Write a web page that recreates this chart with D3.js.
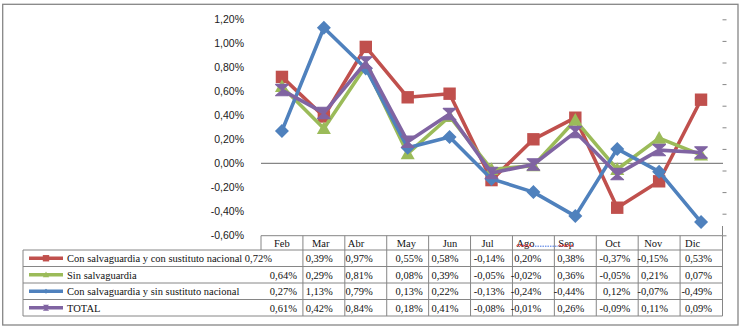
<!DOCTYPE html>
<html>
<head>
<meta charset="utf-8">
<script src="https://cdn.jsdelivr.net/npm/d3@7"></script>
<style>
  html, body { margin: 0; padding: 0; background: #fff; }
  svg { display: block; }
</style>
</head>
<body>
<div id="chart"></div>
<script>
// Monthly variation by group (percent)
const months = ["Feb", "Mar", "Abr", "May", "Jun", "Jul", "Ago", "Sep", "Oct", "Nov", "Dic"];
const seriesNames = [
  "Con salvaguardia y con sustituto nacional",
  "Sin salvaguardia",
  "Con salvaguardia y sin sustituto nacional",
  "TOTAL"
];
const conSustituto    = [0.72, 0.39, 0.97, 0.55, 0.58, -0.14, 0.20, 0.38, -0.37, -0.15, 0.53];
const sinSalvaguardia = [0.64, 0.29, 0.81, 0.08, 0.39, -0.05, -0.02, 0.36, -0.05, 0.21, 0.07];
const sinSustituto    = [0.27, 1.13, 0.79, 0.13, 0.22, -0.13, -0.24, -0.44, 0.12, -0.07, -0.49];
const total           = [0.61, 0.42, 0.84, 0.18, 0.41, -0.08, -0.01, 0.26, -0.09, 0.11, 0.09];
const yTicks = [-0.6, -0.4, -0.2, 0, 0.2, 0.4, 0.6, 0.8, 1.0, 1.2];

const seriesValues = [conSustituto, sinSalvaguardia, sinSustituto, total];
const colors  = ["#C0504D", "#9BBB59", "#4F81BD", "#8064A2"];
const markers = ["square", "triangle", "diamond", "hourglass"];

// Layout
const W = 744, H = 329;
const plotLeft = 261, plotRight = 722;
const plotTop = 19.3, plotBottom = 235.3;
const tableTop = 235.7, headerBottom = 250, rowH = 16.5;
const tableLeft = 23;
const gridColor = "#868686";
// per-column text placement inside the data table
const headerOffset = [13, 9, 3, 10, 14, 11, 4, 4, 9, 6, 5];
const cellPadRight = [6, 12, 14, 6, 12, 8, 13, 12, 8, 12, 10];

const locale = d3.formatLocale({decimal: ",", thousands: ".", grouping: [3], currency: ["", "€"], minus: "-"});
const f2 = locale.format(".2f");
const pct = v => f2(v) + "%";

const svg = d3.select("#chart").append("svg")
  .attr("width", W).attr("height", H);

// chart frame
svg.append("rect")
  .attr("x", 2.7).attr("y", 4.3).attr("width", 735.3).attr("height", 320.7)
  .attr("fill", "#fff").attr("stroke", gridColor).attr("stroke-width", 1.3);

const x = d3.scaleBand().domain(months).range([plotLeft, plotRight]).padding(0);
const y = d3.scaleLinear().domain([-0.6, 1.2]).range([plotBottom, plotTop]);

// left value axis (labels only)
const yAxis = svg.append("g")
  .attr("transform", `translate(${plotLeft - 13},0)`)
  .call(d3.axisLeft(y).tickValues(yTicks).tickSize(0).tickPadding(4).tickFormat(pct));
yAxis.select(".domain").remove();
yAxis.selectAll("text")
  .attr("font-family", "Liberation Sans, Arial, sans-serif")
  .attr("font-size", "10.5px")
  .attr("fill", "#1a1a1a");

// secondary axis tick marks on the right
const y2 = d3.scaleLinear().domain([0, 10]).range([plotTop, plotBottom]);
const y2Axis = svg.append("g")
  .attr("transform", `translate(${plotRight + 0.5},0)`)
  .call(d3.axisRight(y2).tickValues(d3.range(0, 11)).tickSize(4).tickFormat(""));
y2Axis.select(".domain").remove();
y2Axis.selectAll("line").attr("stroke", gridColor);

// zero line
svg.append("line")
  .attr("x1", plotLeft).attr("x2", plotRight + 1)
  .attr("y1", y(0)).attr("y2", y(0))
  .attr("stroke", gridColor).attr("stroke-width", 1.2);

// marker shapes
function markerPath(type, s) {
  switch (type) {
    case "square":   return `M${-s},${-s}H${s}V${s}H${-s}Z`;
    case "triangle": return `M0,${-s}L${s},${s * 0.8}L${-s},${s * 0.8}Z`;
    case "diamond":  return `M0,${-s}L${s},0L0,${s}L${-s},0Z`;
    case "hourglass":return `M${-s},${-s * 0.9}H${s}L0,0L${s},${s * 0.9}H${-s}L0,0Z`;
  }
}
const markerSize = {square: 6.2, triangle: 7, diamond: 7, hourglass: 6.3};

// series lines and markers
const cx = m => x(m) + x.bandwidth() / 2;
const line = d3.line().x(d => cx(d.m)).y(d => y(d.v));

seriesValues.forEach((vals, i) => {
  const pts = vals.map((v, j) => ({m: months[j], v}));
  const g = svg.append("g");
  g.append("path")
    .datum(pts)
    .attr("d", line)
    .attr("fill", "none")
    .attr("stroke", colors[i])
    .attr("stroke-width", 3.6)
    .attr("stroke-linejoin", "round");
  g.selectAll("path.mk")
    .data(pts)
    .join("path")
    .attr("class", "mk")
    .attr("transform", d => `translate(${cx(d.m)},${y(d.v)})`)
    .attr("d", markerPath(markers[i], markerSize[markers[i]]))
    .attr("fill", colors[i])
    .attr("stroke", markers[i] === "hourglass" ? colors[i] : "none")
    .attr("stroke-width", 1.2)
    .attr("stroke-linejoin", "round");
});

// data table
const tg = svg.append("g");
const rowTop = i => headerBottom + i * rowH;
const tableBottom = rowTop(seriesNames.length);

// tick above the right edge of the table
tg.append("line").attr("x1", plotRight + 0.5).attr("x2", plotRight + 0.5)
  .attr("y1", 226).attr("y2", tableTop).attr("stroke", gridColor);
// header top
tg.append("line").attr("x1", plotLeft).attr("x2", plotRight + 0.5)
  .attr("y1", tableTop).attr("y2", tableTop).attr("stroke", gridColor);
// row lines
d3.range(seriesNames.length + 1).forEach(i => {
  tg.append("line").attr("x1", tableLeft).attr("x2", plotRight + 0.5)
    .attr("y1", rowTop(i)).attr("y2", rowTop(i)).attr("stroke", gridColor);
});
// left edge of the legend column
tg.append("line").attr("x1", tableLeft).attr("x2", tableLeft)
  .attr("y1", headerBottom).attr("y2", tableBottom).attr("stroke", gridColor);
// column lines
months.forEach((m, j) => {
  const xl = x(m);
  tg.append("line").attr("x1", xl).attr("x2", xl)
    .attr("y1", tableTop).attr("y2", j === 0 ? headerBottom : tableBottom)
    .attr("stroke", gridColor);
});
tg.append("line").attr("x1", plotRight + 0.5).attr("x2", plotRight + 0.5)
  .attr("y1", tableTop).attr("y2", tableBottom).attr("stroke", gridColor);

const serif = "Liberation Serif, 'Times New Roman', serif";
const textStyle = sel => sel.attr("font-family", serif).attr("font-size", "10.5px").attr("fill", "#111");

// header labels
months.forEach((m, j) => {
  tg.append("text").call(textStyle)
    .attr("x", x(m) + headerOffset[j]).attr("y", tableTop + 11)
    .text(m);
});

// proofing marks under "Ago" and "Sep"
function wavy(x0, x1, yy) {
  let d = `M${x0},${yy}`;
  let up = true;
  for (let xx = x0 + 1.5; xx <= x1; xx += 1.5) { d += `L${xx},${yy + (up ? -1 : 1)}`; up = !up; }
  return d;
}
const agoX = x("Ago") + headerOffset[6], sepX = x("Sep") + headerOffset[7];
tg.append("path").attr("d", wavy(agoX, agoX + 16, tableTop + 10)).attr("fill", "none").attr("stroke", "#e0262a").attr("stroke-width", 0.9);
tg.append("path").attr("d", wavy(sepX, sepX + 16, tableTop + 10)).attr("fill", "none").attr("stroke", "#e0262a").attr("stroke-width", 0.9);
tg.append("line").attr("x1", agoX + 16).attr("x2", sepX).attr("y1", tableTop + 10.5).attr("y2", tableTop + 10.5)
  .attr("stroke", "#3f6fe0").attr("stroke-width", 1).attr("stroke-dasharray", "1.5,1");

// rows: legend key, name, values
seriesNames.forEach((name, i) => {
  const top = rowTop(i), mid = top + rowH / 2;
  tg.append("line").attr("x1", 29).attr("x2", 63).attr("y1", mid).attr("y2", mid)
    .attr("stroke", colors[i]).attr("stroke-width", 3.4);
  tg.append("path").attr("transform", `translate(46,${mid})`)
    .attr("d", markerPath(markers[i], markers[i] === "diamond" ? 2.5 : 3.2))
    .attr("fill", colors[i]);
  const label = tg.append("text").call(textStyle)
    .attr("x", 67).attr("y", top + 12).text(name);

  seriesValues[i].forEach((v, j) => {
    const t = tg.append("text").call(textStyle).attr("y", top + 12).text(pct(v));
    if (i === 0 && j === 0) {
      // first value runs on from the long series name
      const end = 67 + label.node().getComputedTextLength();
      t.attr("x", end + 2.5).attr("text-anchor", "start");
    } else {
      t.attr("x", x(months[j]) + x.bandwidth() - cellPadRight[j]).attr("text-anchor", "end");
    }
  });
});
</script>
</body>
</html>
